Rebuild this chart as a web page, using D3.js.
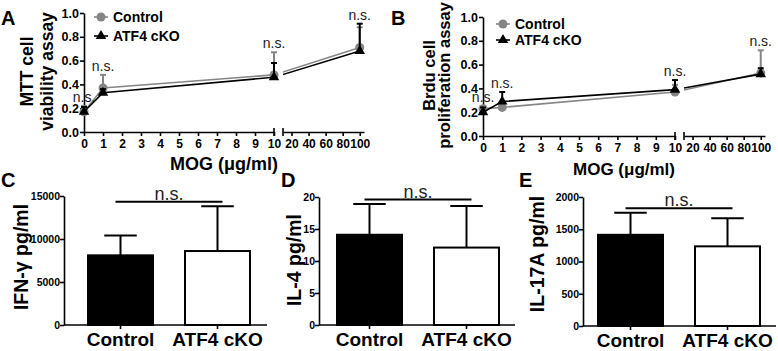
<!DOCTYPE html>
<html><head><meta charset="utf-8">
<script src="https://cdn.jsdelivr.net/npm/d3@7"></script>
<style>
body{margin:0;background:#fff}
svg text{font-family:"Liberation Sans",Arial,Helvetica,sans-serif}
</style>
</head><body>
<svg id="chart" width="778" height="351"></svg>
<script>
// ---------------- data ----------------
const concentrations = [0, 1, 10, 100];
const lowTicks = [0, 1, 2, 3, 4, 5, 6, 7, 8, 9, 10];
const highTicks = [20, 40, 60, 80, 100];
const fractionTicks = [0, 0.2, 0.4, 0.6, 0.8, 1.0];
const seriesNames = ["Control", "ATF4 cKO"];

const mttControl    = [0.17, 0.37, 0.48, 0.71];
const mttControlErr = [0.05, 0.11, 0.19, 0.17];
const mttCko        = [0.17, 0.33, 0.46, 0.68];
const mttCkoErr     = [0.04, 0.03, 0.12, 0.23];

const brduControl    = [0.23, 0.24, 0.37, 0.53];
const brduControlErr = [0.02, 0.03, 0.06, 0.19];
const brduCko        = [0.20, 0.29, 0.39, 0.52];
const brduCkoErr     = [0.04, 0.08, 0.08, 0.05];

const groups = ["Control", "ATF4 cKO"];
const ifnValues = [8100, 8600];
const ifnErr = [2300, 5200];
const ifnTicks = [0, 5000, 10000, 15000];
const il4Values = [14.1, 12.1];
const il4Err = [4.8, 6.5];
const il4Ticks = [0, 5, 10, 15, 20];
const il17Values = [1414, 1235];
const il17Err = [340, 435];
const il17Ticks = [0, 500, 1000, 1500, 2000];

// ---------------- drawing ----------------
const svg = d3.select("#chart");
const GRAY = "#858585";
let clipId = 0;

function styleAxis(g, fontSize) {
  g.selectAll("path.domain").attr("stroke", "#000").attr("stroke-width", 1.6);
  g.selectAll(".tick line").attr("stroke", "#000").attr("stroke-width", 1.6);
  g.selectAll(".tick text").attr("font-size", fontSize).attr("font-weight", "bold")
    .attr("fill", "#000").attr("font-family", '"Liberation Sans",Arial,sans-serif');
}

function panelLetter(t, x, y) {
  svg.append("text").attr("x", x).attr("y", y).attr("font-size", 20)
    .attr("font-weight", "bold").text(t);
}

function linePanel(cfg) {
  const y = d3.scaleLinear().domain([0, 1]).range([cfg.yBot, cfg.yTop]);
  const xl = d3.scaleLinear().domain([0, 10]).range([cfg.x0, cfg.x1]);
  const xh = d3.scaleLinear().domain([10, 105]).range([cfg.xb0, cfg.xb1]);
  const xp = v => (v <= 10 ? xl(v) : xh(v));
  const g = svg.append("g");

  // y axis
  const ya = g.append("g").attr("transform", `translate(${cfg.x0},0)`)
    .call(d3.axisLeft(y).tickValues(fractionTicks).tickFormat(d3.format(".1f"))
      .tickSize(4).tickSizeOuter(0).tickPadding(1));
  styleAxis(ya, 12.5);

  // x axes (broken)
  const xa1 = g.append("g").attr("transform", `translate(0,${cfg.yBot})`)
    .call(d3.axisBottom(xl).tickValues(lowTicks).tickFormat(d3.format("d"))
      .tickSize(4).tickSizeOuter(0).tickPadding(3));
  styleAxis(xa1, 12);
  const xa2 = g.append("g").attr("transform", `translate(0,${cfg.yBot})`)
    .call(d3.axisBottom(xh).tickValues(highTicks).tickFormat(d3.format("d"))
      .tickSize(4).tickSizeOuter(0).tickPadding(3));
  styleAxis(xa2, 12);
  [xl(10), xh.range()[0]].forEach(bx => {
    g.append("line").attr("x1", bx).attr("x2", bx)
      .attr("y1", cfg.yBot - 4).attr("y2", cfg.yBot + 4)
      .attr("stroke", "#000").attr("stroke-width", 1.6);
  });

  // clip for the segment across the break
  const cid = "clip" + (clipId++);
  svg.append("defs").append("clipPath").attr("id", cid).append("rect")
    .attr("x", xh.range()[0]).attr("y", 0).attr("width", 200).attr("height", 351);

  const series = [
    { vals: cfg.control, errs: cfg.controlErr, color: GRAY, shape: "circle" },
    { vals: cfg.cko, errs: cfg.ckoErr, color: "#000", shape: "triangle" }
  ];

  series.forEach(s => {
    const pts = concentrations.map((c, i) => ({ c, v: s.vals[i], e: s.errs[i] }));
    // error bars (upper only)
    pts.forEach(p => {
      const px = xp(p.c);
      g.append("line").attr("x1", px).attr("x2", px)
        .attr("y1", y(p.v)).attr("y2", y(p.v + p.e))
        .attr("stroke", s.color).attr("stroke-width", 2);
      g.append("line").attr("x1", px - 3).attr("x2", px + 3)
        .attr("y1", y(p.v + p.e)).attr("y2", y(p.v + p.e))
        .attr("stroke", s.color).attr("stroke-width", 2);
    });
    // line within low segment
    const lowPts = pts.filter(p => p.c <= 10);
    g.append("path").datum(lowPts)
      .attr("d", d3.line().x(p => xp(p.c)).y(p => y(p.v)))
      .attr("fill", "none").attr("stroke", s.color).attr("stroke-width", 1.6);
    // across the break
    const p10 = pts[2], p100 = pts[3];
    g.append("line").attr("clip-path", `url(#${cid})`)
      .attr("x1", xl(p10.c)).attr("y1", y(p10.v))
      .attr("x2", xh(p100.c)).attr("y2", y(p100.v))
      .attr("stroke", s.color).attr("stroke-width", 1.6);
    // markers
    pts.forEach(p => {
      if (s.shape === "circle") {
        g.append("circle").attr("cx", xp(p.c)).attr("cy", y(p.v)).attr("r", 4.5)
          .attr("fill", s.color);
      } else {
        g.append("path").attr("d", d3.symbol(d3.symbolTriangle, 48)())
          .attr("transform", `translate(${xp(p.c)},${y(p.v)})`).attr("fill", s.color);
      }
    });
  });

  // n.s. labels
  concentrations.forEach((c, i) => {
    const top = Math.max(cfg.control[i] + cfg.controlErr[i], cfg.cko[i] + cfg.ckoErr[i]);
    g.append("text").attr("x", xp(c)).attr("y", y(top) - 4)
      .attr("text-anchor", "middle").attr("font-size", 14).attr("fill", "#222").text("n.s.");
  });

  // legend
  cfg.legend.forEach((ly, i) => {
    const color = i === 0 ? GRAY : "#000";
    g.append("line").attr("x1", cfg.legX).attr("x2", cfg.legX + 14)
      .attr("y1", ly).attr("y2", ly).attr("stroke", color).attr("stroke-width", 1.6);
    if (i === 0) {
      g.append("circle").attr("cx", cfg.legX + 7).attr("cy", ly).attr("r", 4.5).attr("fill", color);
    } else {
      g.append("path").attr("d", d3.symbol(d3.symbolTriangle, 48)())
        .attr("transform", `translate(${cfg.legX + 7},${ly})`).attr("fill", color);
    }
    g.append("text").attr("x", cfg.legX + 19).attr("y", ly + 5)
      .attr("font-size", 14).attr("font-weight", "bold").text(seriesNames[i]);
  });

  // y title (two lines)
  const yc = (cfg.yTop + cfg.yBot) / 2 - 1;
  cfg.yTitle.forEach((t, i) => {
    g.append("text").attr("transform", `translate(${cfg.yTitleX[i]},${yc}) rotate(-90)`)
      .attr("text-anchor", "middle").attr("font-size", cfg.yTitleSize)
      .attr("font-weight", "bold").text(t);
  });
  // x title
  g.append("text").attr("x", (cfg.x0 + cfg.xb1) / 2).attr("y", cfg.xTitleY)
    .attr("text-anchor", "middle").attr("font-size", cfg.xTitleSize)
    .attr("font-weight", "bold").text("MOG (\u03bcg/ml)");
}

function barPanel(cfg) {
  const y = d3.scaleLinear().domain([0, cfg.ticks[cfg.ticks.length - 1]]).range([cfg.yBot, cfg.yTop]);
  const x = d3.scaleBand().domain(groups).range([cfg.b0, cfg.b1]).paddingInner(0.33).paddingOuter(0);
  const g = svg.append("g");
  const bw = x.bandwidth();

  groups.forEach((gr, i) => {
    const cx = x(gr) + bw / 2;
    const top = y(cfg.values[i] + cfg.errs[i]);
    g.append("line").attr("x1", cx).attr("x2", cx).attr("y1", y(cfg.values[i])).attr("y2", top)
      .attr("stroke", "#000").attr("stroke-width", 2);
    g.append("line").attr("x1", cx - bw / 4).attr("x2", cx + bw / 4).attr("y1", top).attr("y2", top)
      .attr("stroke", "#000").attr("stroke-width", 2);
    g.append("rect").attr("x", x(gr)).attr("y", y(cfg.values[i]))
      .attr("width", bw).attr("height", y(0) - y(cfg.values[i]))
      .attr("fill", i === 0 ? "#000" : "#fff").attr("stroke", "#000").attr("stroke-width", 2);
  });

  const ya = g.append("g").attr("transform", `translate(${cfg.x0},0)`)
    .call(d3.axisLeft(y).tickValues(cfg.ticks).tickFormat(d3.format("d"))
      .tickSize(4).tickSizeOuter(0).tickPadding(0));
  styleAxis(ya, 10.5);

  const xa = g.append("g").attr("transform", `translate(0,${cfg.yBot})`)
    .call(d3.axisBottom(x).tickSize(4).tickSizeOuter(0).tickPadding(4));
  xa.select("path.domain").remove();
  styleAxis(xa, 19);
  g.append("line").attr("x1", cfg.x0).attr("x2", cfg.xEnd).attr("y1", cfg.yBot).attr("y2", cfg.yBot)
    .attr("stroke", "#000").attr("stroke-width", 1.6);

  // bracket
  const maxTop = d3.min(groups.map((gr, i) => y(cfg.values[i] + cfg.errs[i])));
  const by = maxTop - 4.5;
  const c1 = x(groups[0]) + bw / 2 - 5, c2 = x(groups[1]) + bw / 2 + 5;
  g.append("line").attr("x1", c1).attr("x2", c2).attr("y1", by).attr("y2", by)
    .attr("stroke", "#000").attr("stroke-width", 2);
  g.append("text").attr("x", (c1 + c2) / 2).attr("y", by - 2).attr("text-anchor", "middle")
    .attr("font-size", 18).attr("fill", "#222").text("n.s.");

  g.append("text").attr("transform", `translate(${cfg.titleX},${cfg.titleY}) rotate(-90)`)
    .attr("text-anchor", "middle").attr("font-size", 19.5).attr("font-weight", "bold").text(cfg.title);
}

// Panels A & B
linePanel({
  x0: 84, x1: 274, xb0: 283, xb1: 364, yTop: 13, yBot: 132,
  control: mttControl, controlErr: mttControlErr, cko: mttCko, ckoErr: mttCkoErr,
  legX: 94, legend: [17, 36],
  yTitle: ["MTT cell", "viability assay"], yTitleX: [33, 53], yTitleSize: 17.5,
  xTitleY: 170, xTitleSize: 18
});
linePanel({
  x0: 483, x1: 675, xb0: 684, xb1: 765, yTop: 17, yBot: 136,
  control: brduControl, controlErr: brduControlErr, cko: brduCko, ckoErr: brduCkoErr,
  legX: 496, legend: [24, 40],
  yTitle: ["Brdu cell", "proliferation assay"], yTitleX: [435, 450], yTitleSize: 16.5,
  xTitleY: 175, xTitleSize: 17
});

// Panels C, D, E
barPanel({ x0: 64, xEnd: 267, yTop: 196, yBot: 325, b0: 88, b1: 250,
  values: ifnValues, errs: ifnErr, ticks: ifnTicks, title: "IFN-\u03b3 pg/ml", titleX: 28, titleY: 257 });
barPanel({ x0: 319, xEnd: 515, yTop: 197, yBot: 325, b0: 337, b1: 499,
  values: il4Values, errs: il4Err, ticks: il4Ticks, title: "IL-4 pg/ml", titleX: 301, titleY: 260 });
barPanel({ x0: 583, xEnd: 776, yTop: 197, yBot: 326, b0: 598, b1: 760,
  values: il17Values, errs: il17Err, ticks: il17Ticks, title: "IL-17A pg/ml", titleX: 544, titleY: 254 });

panelLetter("A", 1, 25);
panelLetter("B", 391, 25);
panelLetter("C", 1, 187);
panelLetter("D", 281, 187);
panelLetter("E", 519, 187);
</script>
</body></html>
